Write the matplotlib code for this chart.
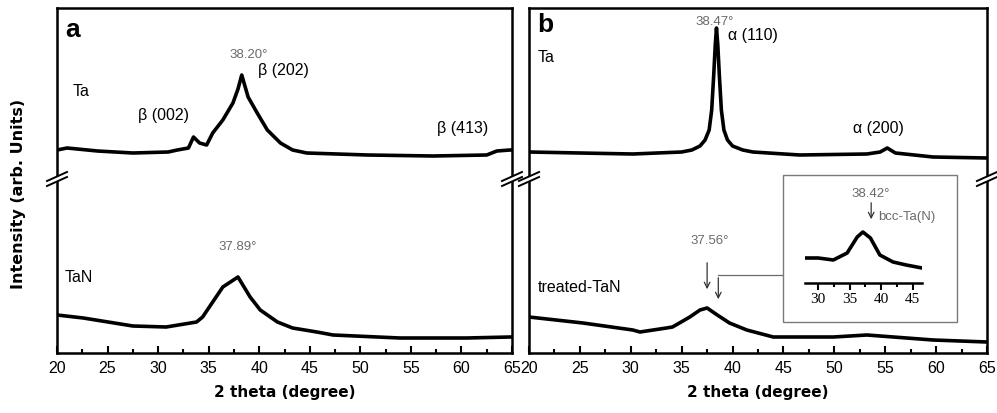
import numpy as np
import matplotlib
matplotlib.use("Agg")
import matplotlib.pyplot as plt
from matplotlib.patches import Rectangle, Polygon

plt.rcParams['font.family'] = ['Liberation Sans', 'DejaVu Sans']

# panel a, as-deposited Ta (upper trace)
ta_a_x = [20, 21, 24, 27.5, 31, 31.9, 33.0, 33.5, 34.1, 34.8, 35.4, 36.4, 37.4, 37.9,
          38.27, 38.9, 39.8, 40.8, 42.1, 43.3, 44.7, 50.7, 57.2, 62.5, 63.5, 64.8, 65]
ta_a_y = [203, 205, 202, 200, 201, 203, 205, 216, 210, 208, 220, 233, 250, 264,
          278, 256, 240, 223, 210, 203, 200, 198, 197, 198, 202, 203, 203]

# panel a, TaN (lower trace)
tan_a_x = [20, 22.6, 27.5, 30.8, 33.8, 34.4, 35.4, 36.4, 37.9, 39.1, 40.1, 41.8,
           43.3, 45.7, 47.3, 53.9, 60.5, 64.8, 65]
tan_a_y = [38, 35, 27, 26, 31, 36, 51, 66, 76, 56, 43, 31, 25, 21, 18, 15, 15, 16, 16]

# panel b, Ta (upper trace)
ta_b_x = [20, 25, 30.2, 35.0, 36.0, 36.8, 37.3, 37.7, 37.95, 38.15, 38.3, 38.42,
          38.55, 38.7, 38.9, 39.15, 39.5, 40.0, 41.0, 42.0, 46.6, 53.2, 54.5, 55.2,
          56.0, 59.7, 65]
ta_b_y = [201, 200, 199, 201, 203, 207, 213, 223, 243, 278, 308, 325,
          308, 278, 243, 223, 213, 207, 203, 201, 198, 199, 201, 205,
          200, 196, 195]

# panel b, treated TaN (lower trace)
ttan_x = [20, 25.3, 30.2, 30.9, 33.5, 34.1, 35.8, 36.8, 37.5, 38.5, 39.7, 41.4,
          44.0, 49.9, 53.2, 59.7, 65]
ttan_y = [36, 30, 23, 21, 25, 26, 36, 43, 45, 38, 30, 23, 16, 16, 18, 13, 11]

# inset, treated TaN zoom
ins_x = [27.9, 30, 32.4, 34.6, 36.2, 37.1, 38.3, 39.8, 41.9, 44, 46.5]
ins_y = [25, 25, 23, 30, 46, 51, 45, 28, 21, 18, 15]

xticks = [20, 25, 30, 35, 40, 45, 50, 55, 60, 65]
ins_ticks = [30, 35, 40, 45]

W, H = 997, 413
fig = plt.figure(figsize=(W / 100, H / 100), dpi=100)

gray = '#6a6a6a'
fs = 11.5


def px_box(x0, y0, x1, y1):
    return [x0 / W, 1 - y1 / H, (x1 - x0) / W, (y1 - y0) / H]


def setup(ax):
    ax.set_xlim(20, 65)
    ax.set_ylim(0, 345)
    ax.set_yticks([])
    ax.set_xticks(xticks)
    ax.set_xticks(np.arange(22.5, 65, 5), minor=True)
    ax.tick_params(axis='x', which='major', direction='in', length=5, width=1.5,
                   labelsize=fs, pad=6)
    ax.tick_params(axis='x', which='minor', direction='in', length=3, width=1.5)
    for s in ax.spines.values():
        s.set_linewidth(1.8)
    ax.set_xlabel('2 theta (degree)', family='DejaVu Sans', fontweight='bold',
                  fontsize=11, labelpad=6)


def draw_break(ax, x, y0):
    # offsets in pixels (1 data unit = 1 px in y, 45/455 deg per px in x)
    kx = 45 / 455
    lo = [(x - 10 * kx, y0 - 9), (x + 10 * kx, y0)]
    hi = [(x - 10 * kx, y0 - 4), (x + 10 * kx, y0 + 5)]
    poly = Polygon([lo[0], lo[1], hi[1], hi[0]], closed=True, facecolor='white',
                   edgecolor='none', clip_on=False, zorder=5)
    ax.add_patch(poly)
    for seg in (lo, hi):
        ax.plot([seg[0][0], seg[1][0]], [seg[0][1], seg[1][1]], color='black',
                lw=1.4, clip_on=False, zorder=6)


ax1 = fig.add_axes(px_box(57, 8, 512, 353))
ax2 = fig.add_axes(px_box(529, 8, 987, 353))
setup(ax1)
setup(ax2)

ax1.plot(ta_a_x, ta_a_y, color='black', lw=2.6)
ax1.plot(tan_a_x, tan_a_y, color='black', lw=2.6)
ax2.plot(ta_b_x, ta_b_y, color='black', lw=2.6)
ax2.plot(ttan_x, ttan_y, color='black', lw=2.6)

for ax in (ax1, ax2):
    draw_break(ax, 20, 176)
    draw_break(ax, 65, 176)

# panel a labels
ax1.text(20.8, 335, 'a', fontsize=19, fontweight='bold', va='top')
ax1.text(21.5, 262, 'Ta', fontsize=fs, va='center')
ax1.text(28.0, 238, 'β (002)', fontsize=fs, va='center')
ax1.text(39.0, 298, '38.20°', fontsize=9.5, color=gray, ha='center', va='center')
ax1.text(39.9, 283, 'β (202)', fontsize=fs, va='center')
ax1.text(57.6, 225, 'β (413)', fontsize=fs, va='center')
ax1.text(37.9, 106, '37.89°', fontsize=9.5, color=gray, ha='center', va='center')
ax1.text(20.8, 76, 'TaN', fontsize=fs, va='center')

# panel b labels
ax2.text(20.8, 340, 'b', fontsize=19, fontweight='bold', va='top')
ax2.text(20.8, 296, 'Ta', fontsize=fs, va='center')
ax2.text(38.2, 331, '38.47°', fontsize=9.5, color=gray, ha='center', va='center')
ax2.text(39.55, 318, 'α (110)', fontsize=fs, va='center')
ax2.text(51.8, 225, 'α (200)', fontsize=fs, va='center')
ax2.text(20.9, 65, 'treated-TaN', fontsize=fs, va='center')
ax2.text(37.7, 112, '37.56°', fontsize=9.5, color=gray, ha='center', va='center')
ax2.annotate('', xy=(37.5, 61), xytext=(37.5, 93),
             arrowprops=dict(arrowstyle='->', color='#333333', lw=0.9))
ax2.annotate('', xy=(38.6, 51), xytext=(38.6, 78),
             arrowprops=dict(arrowstyle='->', color='#333333', lw=0.9))
ax2.plot([38.6, 44.9], [78, 78], color=gray, lw=0.9)

# inset
fig.patches.append(Rectangle((783 / W, 1 - 322 / H), 174 / W, 147 / H,
                             transform=fig.transFigure, facecolor='white',
                             edgecolor='#7a7a7a', lw=1.0, zorder=3))
ins = fig.add_axes(px_box(805, 225, 922, 283))
ins.set_zorder(4)
ins.patch.set_alpha(0)
ins.plot(ins_x, ins_y, color='black', lw=2.6)
ins.set_xlim(27.9, 46.5)
ins.set_ylim(0, 58)
ins.set_yticks([])
for side in ('left', 'right', 'top'):
    ins.spines[side].set_visible(False)
ins.spines['bottom'].set_linewidth(1.8)
ins.set_xticks(ins_ticks)
ins.set_xticks([32.5, 37.5, 42.5], minor=True)
ins.tick_params(axis='x', which='major', direction='out', length=5, width=1.5,
                labelsize=11, pad=2)
ins.tick_params(axis='x', which='minor', direction='out', length=3, width=1.5)
for lab in ins.get_xticklabels():
    lab.set_family('Liberation Serif')
ins.annotate('', xy=(38.42, 61), xytext=(38.42, 83), annotation_clip=False,
             arrowprops=dict(arrowstyle='->', color='#333333', lw=0.9))
ins.text(38.3, 89, '38.42°', fontsize=9.5, color=gray, ha='center', va='center',
         clip_on=False)
ins.text(39.5, 66, 'bcc-Ta(N)', fontsize=9.5, color=gray, va='center', clip_on=False)

fig.text(0.019, 1 - 194 / H, 'Intensity (arb. Units)', family='DejaVu Sans',
         fontweight='bold', fontsize=11.5, rotation=90, ha='center', va='center')

fig.savefig('out.png', dpi=100)
